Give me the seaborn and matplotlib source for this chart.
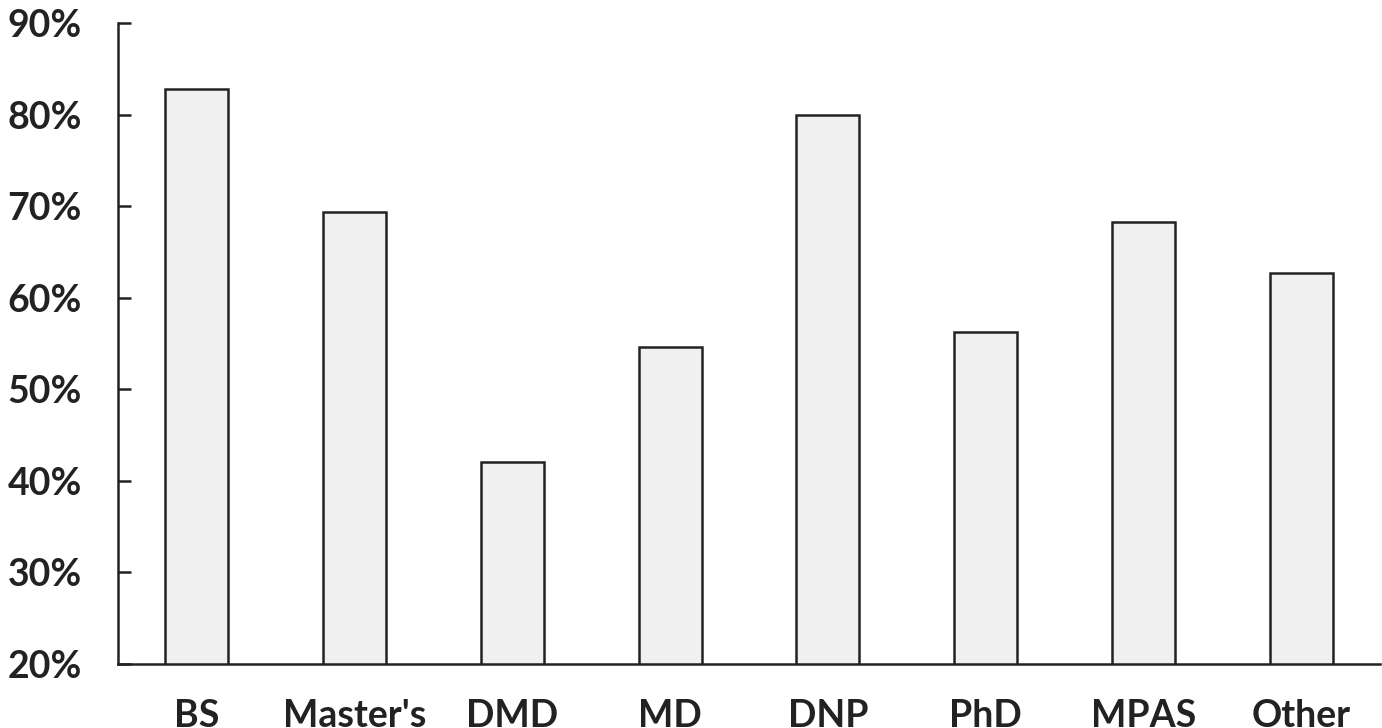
import matplotlib.pyplot as plt
import pandas as pd
import seaborn as sns

degrees = ["BS", "Master's", "DMD", "MD", "DNP", "PhD", "MPAS", "Other"]
shares = [82.8, 69.4, 42.1, 54.6, 80.0, 56.3, 68.3, 62.7]
y_ticks = [20, 30, 40, 50, 60, 70, 80, 90]
y_tick_labels = ["20%", "30%", "40%", "50%", "60%", "70%", "80%", "90%"]


def main():
    data = pd.DataFrame({"degree": degrees, "share": shares})

    sns.set_style("white")
    plt.rcParams["font.family"] = ["Lato", "DejaVu Sans"]

    fig = plt.figure(figsize=(13.82, 7.28), dpi=100)
    ax = fig.add_axes([0.0854, 0.0879, 0.9132, 0.8805])

    sns.barplot(
        data=data,
        x="degree",
        y="share",
        ax=ax,
        color="#f0f0f0",
        saturation=1,
        width=0.4,
        edgecolor="#222222",
        linewidth=1.8,
    )

    ax.set_ylim(20, 90)
    ax.set_xlim(-0.5, 7.5)
    ax.set_yticks(y_ticks)
    ax.set_yticklabels(y_tick_labels)
    ax.set_xlabel("")
    ax.set_ylabel("")

    ax.spines["top"].set_visible(False)
    ax.spines["right"].set_visible(False)
    for side in ["left", "bottom"]:
        ax.spines[side].set_color("#222222")
        ax.spines[side].set_linewidth(1.8)

    ax.tick_params(axis="y", left=True, direction="in", length=9, width=1.8,
                   color="#222222", pad=26, labelsize=27)
    ax.tick_params(axis="x", bottom=False, length=0, pad=25, labelsize=27)
    for lbl in ax.get_xticklabels() + ax.get_yticklabels():
        lbl.set_fontweight("bold")
        lbl.set_color("#222222")

    fig.savefig("out.png", dpi=100, facecolor="white")
    plt.close(fig)


if __name__ == "__main__":
    main()
